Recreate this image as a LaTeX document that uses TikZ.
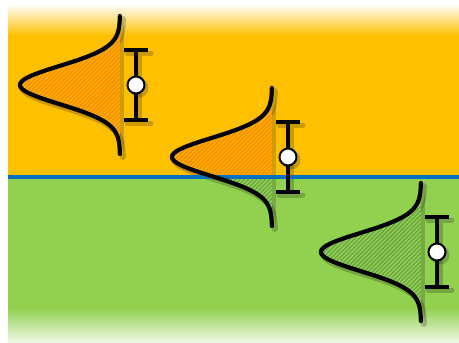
\documentclass[tikz,border=0pt]{standalone}
\usetikzlibrary{patterns.meta}
\definecolor{bgor}{HTML}{FFC000}
\definecolor{bggr}{HTML}{92D050}
\definecolor{bgbl}{HTML}{0070C0}
\definecolor{orfill}{HTML}{FFAC00}
\definecolor{orhatch}{HTML}{F28A00}
\definecolor{grfill}{HTML}{92CE55}
\definecolor{grhatch}{HTML}{63A03A}
\tikzset{
  curveline/.style={line width=4.2pt, line cap=round},
  barline/.style={line width=3.2pt},
  shadowline/.style={black, opacity=0.2, line width=6pt, line cap=round},
  orangehatch/.style={fill=orfill, postaction={pattern={Lines[angle=45,distance=3pt,line width=1.1pt]}, pattern color=orhatch}},
  greenhatch/.style={fill=grfill, postaction={pattern={Lines[angle=45,distance=3pt,line width=1.1pt]}, pattern color=grhatch}},
  dot/.style={circle, draw=black, line width=2pt, fill=white, minimum size=17pt, inner sep=0pt},
}
% #1 = x of vertical edge, #2 = y of peak
\newcommand\gpath[2]{plot[domain=-69:69,samples=121,smooth] ({#1-100*exp(-(\x)^2/722)},{#2+\x})}
\newcommand\shadowpart[2]{%
  \fill[black, opacity=0.18, shift={(4,4)}] \gpath{#1}{#2} -- cycle;
  \draw[shadowline, shift={(3,3)}] \gpath{#1}{#2};
  \draw[shadowline, line width=5pt, shift={(3,3)}] (#1+16,#2-35) -- (#1+16,#2+35)
     (#1+4,#2-35) -- (#1+28,#2-35) (#1+4,#2+35) -- (#1+28,#2+35);
  \fill[black, opacity=0.2] (#1+19,#2+3) circle[radius=9.5pt];
}
\newcommand\linepart[3]{%
  \draw[curveline] \gpath{#1}{#2};
  \draw[barline] (#1+16,#2-35) -- (#1+16,#2+35)
     (#1+4,#2-35) -- (#1+28,#2-35) (#1+4,#2+35) -- (#1+28,#2+35);
  \node[dot] (#3) at (#1+16,#2) {};
}
\begin{document}
\begin{tikzpicture}[x=1pt,y=-1pt]
\useasboundingbox (0,0) rectangle (459,343);
% background
\fill[white] (0,0) rectangle (459,343);
\shade[top color=white, bottom color=bgor] (8,4) rectangle (459,36);
\fill[bgor] (8,35.5) rectangle (459,177);
\fill[bggr] (8,177) rectangle (459,308.5);
\shade[top color=bggr, bottom color=bggr!12] (8,308) rectangle (459,343);
% shadows
\shadowpart{120}{85}
\shadowpart{272}{157}
\shadowpart{421}{252}
% fills
\path[orangehatch] \gpath{120}{85} -- cycle;
\begin{scope}
  \clip (150,60) rectangle (300,177);
  \path[orangehatch] \gpath{272}{157} -- cycle;
\end{scope}
\begin{scope}
  \clip (150,177) rectangle (300,240);
  \path[greenhatch] \gpath{272}{157} -- cycle;
\end{scope}
\path[greenhatch] \gpath{421}{252} -- cycle;
% blue divider
\draw[bgbl, line width=4.5pt] (8,177) -- (459,177);
% curves and error bars
\linepart{120}{85}{m1}
\linepart{272}{157}{m2}
\linepart{421}{252}{m3}
\end{tikzpicture}
\end{document}
